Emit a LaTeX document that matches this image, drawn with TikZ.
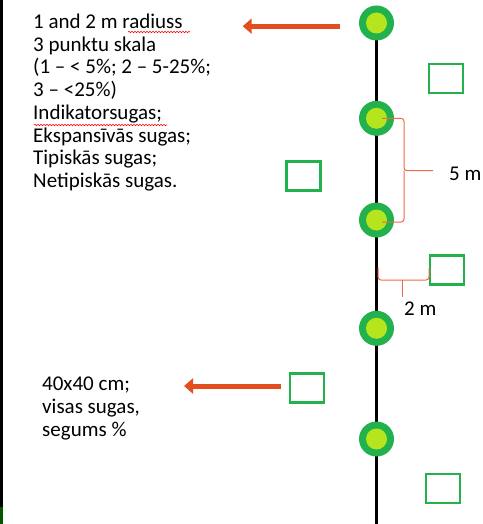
\documentclass[tikz,border=0pt]{standalone}
\usepackage{fontspec}
\setmainfont{Carlito}
\usepackage{xcolor}
\usepackage{tikz}
\usetikzlibrary{calc}
\usetikzlibrary{arrows.meta}
\usetikzlibrary{decorations.pathmorphing}
\usetikzlibrary{backgrounds}
\definecolor{zals}{RGB}{34,177,76}
\definecolor{dzeltzals}{RGB}{181,230,29}
\definecolor{bulta}{RGB}{226,78,30}
\definecolor{iekavas}{RGB}{240,104,72}
\tikzset{
  punkts/.style={circle, fill=zals, minimum size=35pt, inner sep=0,
    path picture={\fill[dzeltzals] (path picture bounding box.center) circle (10.5pt);}},
  kvadrats/.style={draw=zals, line width=2.2pt, minimum width=34pt, minimum height=29pt, inner sep=0},
  bultina/.style={draw=bulta, line width=5pt, -{Triangle[length=9pt,width=15pt]}},
  iekava/.style={draw=iekavas, line width=1pt, rounded corners=3pt},
  teksts/.style={font=\fontsize{21}{22.7}\selectfont, align=left, inner sep=0},
  pareizr/.style={draw=red, line width=.6pt, decorate, decoration={snake, amplitude=.7pt, segment length=3pt}}
}

\begin{document}
\begin{tikzpicture}[x=1pt, y=-1pt]
\useasboundingbox (0,0) rectangle (482,524);
\draw[line width=2.5pt] (1.25,0) -- (1.25,524);
\draw[line width=2.5pt, green!35!black] (1.25,507) -- (1.25,524);
\foreach \i/\y in {1/23, 2/118.3, 3/220, 4/328.3, 5/439} {
  \node[punkts] (c\i) at (376.5,\y) {};
}
\coordinate (apaksa) at (376.5,524);
\begin{scope}[on background layer]
  \draw[line width=3pt] (c1.center) -- (apaksa);
\end{scope}
\foreach \i/\x/\y in {1/446/78.7, 2/303.4/176, 3/446.8/270, 4/307/388, 5/442.8/488.7} {
  \node[kvadrats] (q\i) at (\x,\y) {};
}
\node[teksts, anchor=base west] (t1) at (33,187.4) {1 and 2 m radiuss\\
3 punktu skala\\
(1 – < 5\%; 2 – 5-25\%;\\
3 – <25\%)\\
Indikatorsugas;\\
Ekspansīvās sugas;\\
Tipiskās sugas;\\
Netipiskās sugas.};
\node[teksts, anchor=base west] (t2) at (42,436.1) {40x40 cm;\\
visas sugas,\\
segums \%};
\draw[pareizr] (128,32) -- (190,32);
\draw[pareizr] (34,125) -- (167,125);
\coordinate (a1s) at (340,26.2);
\coordinate (a1b) at (242.7,26.2);
\coordinate (a2s) at (281,386);
\coordinate (a2b) at (184,386);
\draw[bultina] (a1s) -- (a1b);
\draw[bultina] (a2s) -- (a2b);
\node[teksts, anchor=base west] (l5) at (449,180.7) {5 m};
\node[teksts, anchor=base west] (l2) at (404,315.5) {2 m};
\draw[iekava] (382,118.3) -- (404,118.3) -- (404,170.7) -- (433,170.7);
\draw[iekava] (382,222) -- (404,222) -- (404,170.7);
\draw[iekava] (378,267.3) -- (378,280) -- (429,280) -- (429,268);
\draw[iekava] (402.7,280) -- (402.7,296.7);
\end{tikzpicture}
\end{document}
